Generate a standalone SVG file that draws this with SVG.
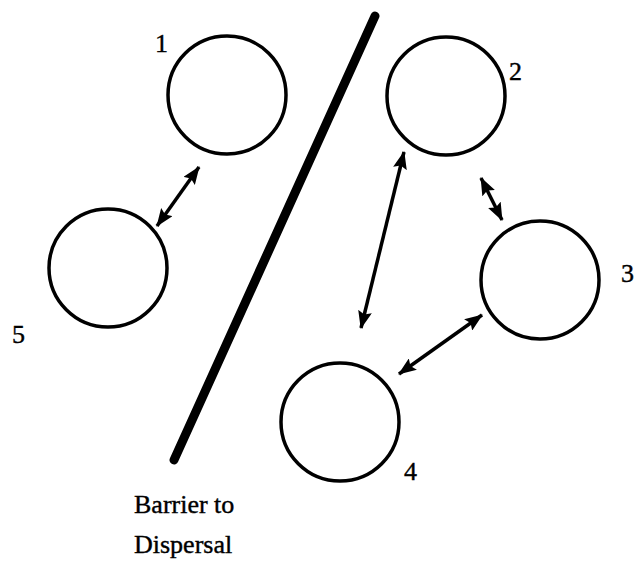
<svg xmlns="http://www.w3.org/2000/svg" width="638" height="571" viewBox="0 0 638 571">
<style>
.node circle{fill:none;stroke:#000;stroke-width:3.5}
.conn line{stroke:#000;stroke-width:3.5}
</style>
<defs>
<marker id="ah" viewBox="0 0 18 14" refX="17" refY="7" markerWidth="18" markerHeight="14" markerUnits="userSpaceOnUse" orient="auto-start-reverse">
<path d="M0,0 L18,7 L0,14 L3,7 Z" fill="#000"/>
</marker>
</defs>
<rect width="638" height="571" fill="#fff"/>
<line x1="375" y1="16" x2="174" y2="460" stroke="#000" stroke-width="9" stroke-linecap="round"/>
<g font-family="Liberation Serif, Times New Roman, serif" font-size="26" fill="#000" stroke="#000" stroke-width="0.4">
<g id="n1" class="node"><circle cx="227" cy="95" r="59"/><text x="155" y="52">1</text></g>
<g id="n2" class="node"><circle cx="446" cy="96" r="59"/><text x="509" y="80">2</text></g>
<g id="n3" class="node"><circle cx="540" cy="280" r="59"/><text x="621" y="282">3</text></g>
<g id="n4" class="node"><circle cx="340" cy="422" r="59"/><text x="404" y="480">4</text></g>
<g id="n5" class="node"><circle cx="108" cy="268" r="59"/><text x="12" y="343">5</text></g>
<text x="134" y="513">Barrier to</text>
<text x="134" y="553">Dispersal</text>
</g>
<g id="connectors" class="conn">
<line x1="157" y1="226" x2="199" y2="167" marker-start="url(#ah)" marker-end="url(#ah)"/>
<line x1="361" y1="328" x2="404" y2="152" marker-start="url(#ah)" marker-end="url(#ah)"/>
<line x1="481" y1="178" x2="502" y2="220" marker-start="url(#ah)" marker-end="url(#ah)"/>
<line x1="399" y1="374" x2="482" y2="315" marker-start="url(#ah)" marker-end="url(#ah)"/>
</g>
</svg>
